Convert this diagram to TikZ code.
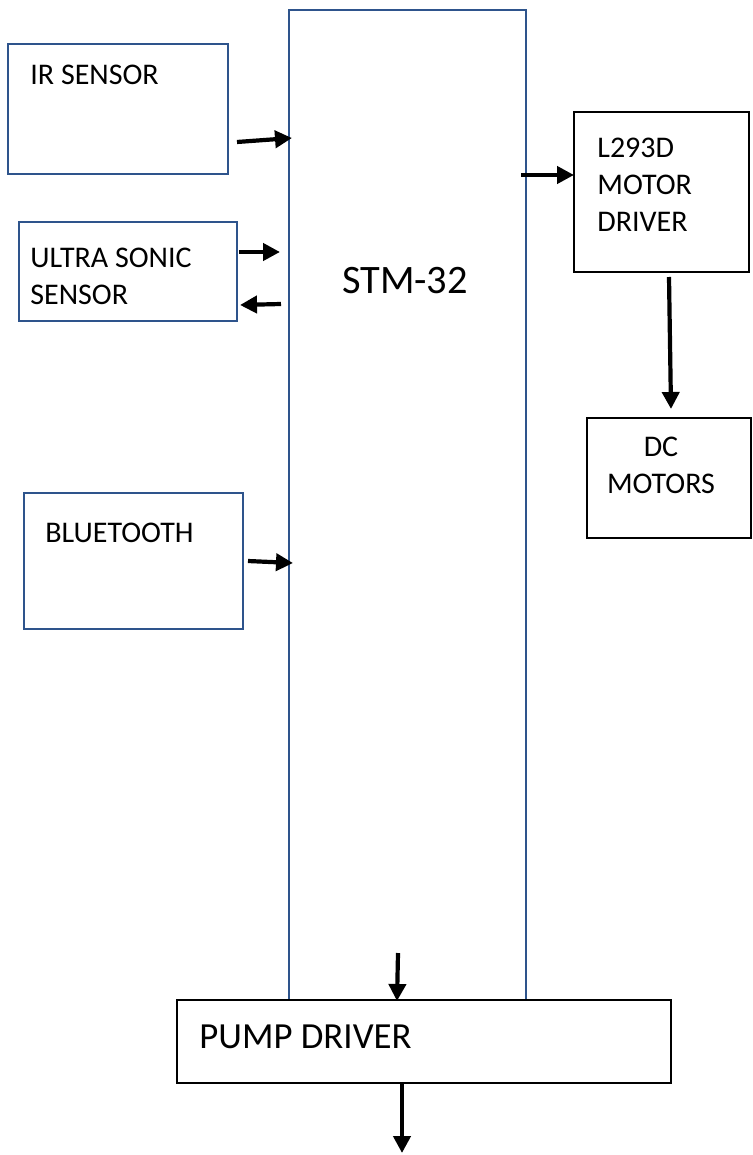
\documentclass[tikz,border=0pt]{standalone}
\usepackage{fontspec}
\setmainfont{Carlito}
\usetikzlibrary{arrows.meta,calc}

\definecolor{boxblue}{RGB}{46,84,140}

\begin{document}
\begin{tikzpicture}[x=0.5pt, y=-0.5pt,
    bluebox/.style={draw=boxblue, line width=1.3pt, fill=white, inner sep=0pt, outer sep=0pt},
    blackbox/.style={draw=black, line width=1.4pt, fill=white, inner sep=0pt, outer sep=0pt},
    txt/.style={inner sep=0pt, anchor=north west, align=left, font=\fontsize{15}{18.5}\selectfont},
    arr/.style={line width=2.1pt, -{Triangle[length=8.5pt, width=8.5pt]}}]

                \useasboundingbox (0,0) rectangle (752,1155);

                %----- CONTROLLER -----
                \node[bluebox, minimum width=118.5pt, minimum height=495pt] (stm) at (407.5,505) {};
                \node[inner sep=0pt, anchor=north, font=\fontsize{20.2}{24}\selectfont]
                    (stmtxt) at ($(stm.north)+(-2.5,257)$) {STM-32};

                %----- INPUT BLOCKS (left) -----
                \node[bluebox, minimum width=110pt, minimum height=65pt] (ir) at (118,109) {};
                \node[txt] (irtxt) at ($(ir.north west)+(22,21)$) {IR SENSOR};

                \node[bluebox, minimum width=109pt, minimum height=49.5pt] (us) at (128,271.5) {};
                \node[txt] (ustxt) at ($(us.north west)+(11,26)$) {ULTRA SONIC\\SENSOR};

                \node[bluebox, minimum width=109.5pt, minimum height=68pt] (bt) at (133.5,561) {};
                \node[txt] (bttxt) at ($(bt.north west)+(21,30)$) {BLUETOOTH};

                %----- MOTOR SIDE (right) -----
                \node[blackbox, minimum width=87.5pt, minimum height=80pt] (drv) at (661.5,192) {};
                \node[txt] (drvtxt) at ($(drv.north west)+(23,26)$) {L293D\\MOTOR\\DRIVER};

                \node[blackbox, minimum width=82pt, minimum height=60pt] (dc) at (669,478) {};
                \node[txt, anchor=north, align=center] (dctxt) at ($(dc.north)+(-8,19)$) {DC\\MOTORS};

                %----- PUMP DRIVER (bottom) -----
                \node[blackbox, minimum width=247pt, minimum height=41.5pt] (pump) at (424,1041.5) {};
                \node[txt, font=\fontsize{18.4}{22}\selectfont] (pumptxt)
                    at ($(pump.north west)+(22,24)$) {PUMP DRIVER};

                %----- ARROWS -----
                \draw[arr] ($(ir.east)+(9,33)$) -- ($(ir.east -| stm.west)+(3,29)$);
                \draw[arr] ($(us.east)+(2,-19.5)$) -- ($(us.east -| stm.west)+(-9,-19.5)$);
                \draw[arr] ($(us.east -| stm.west)+(-8,32.5)$) -- ($(us.east)+(3,33.5)$);
                \draw[arr] ($(bt.east)+(5,0)$) -- ($(bt.east -| stm.west)+(4,2)$);

                \draw[arr] ($(drv.west -| stm.east)+(-5,-17)$) -- ($(drv.west)+(0,-17)$);
                \draw[arr] ($(drv.south)+(7.5,5)$) -- ($(dc.north)+(2,-9)$);

                \draw[arr] ($(pump.north)+(-26,-47)$) -- ($(pump.north)+(-27,1)$);
                \draw[arr] ($(pump.south)+(-22,1)$) -- ($(pump.south)+(-22,70)$);

\end{tikzpicture}
\end{document}
